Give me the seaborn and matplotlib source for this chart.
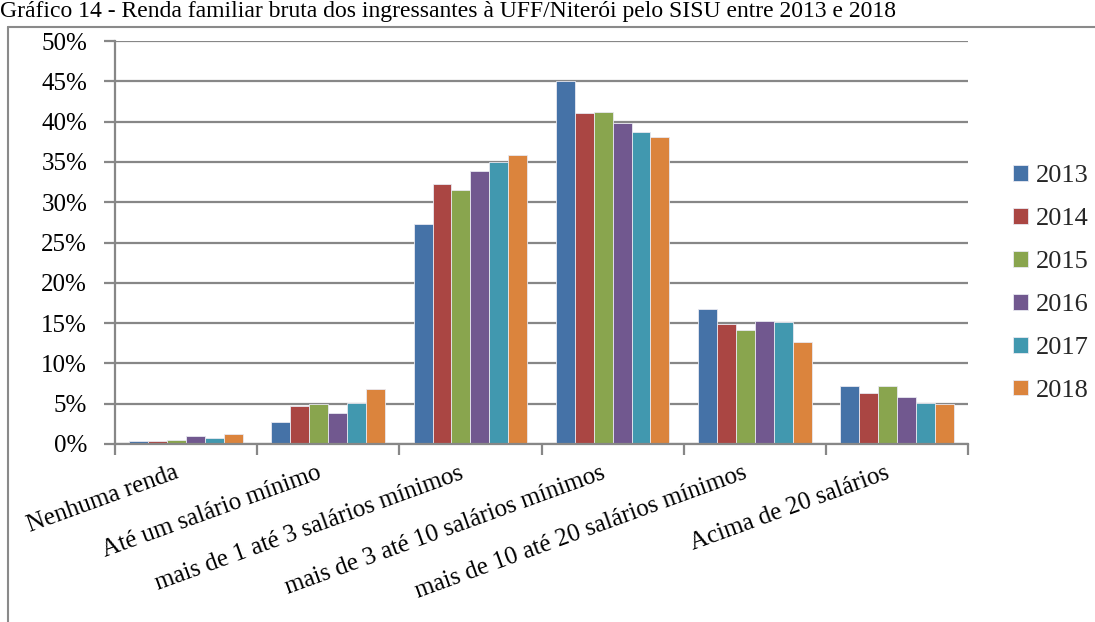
import matplotlib
matplotlib.use("Agg")
import matplotlib.pyplot as plt
import matplotlib.transforms as mtransforms
from matplotlib.lines import Line2D
from matplotlib.ticker import FuncFormatter, FixedLocator
import seaborn as sns
import pandas as pd

# Faixas de renda familiar bruta (eixo x)
categorias = [
    "Nenhuma renda",
    "Até um salário mínimo",
    "mais de 1 até 3 salários mínimos",
    "mais de 3 até 10 salários mínimos",
    "mais de 10 até 20 salários mínimos",
    "Acima de 20 salários",
]
anos = ["2013", "2014", "2015", "2016", "2017", "2018"]

# Percentual de ingressantes por faixa, um array por ano
v2013 = [0.42, 2.75, 27.3, 45.0, 16.8, 7.2]
v2014 = [0.35, 4.75, 32.3, 41.1, 14.85, 6.3]
v2015 = [0.50, 4.95, 31.5, 41.2, 14.2, 7.2]
v2016 = [0.95, 3.80, 33.9, 39.8, 15.3, 5.8]
v2017 = [0.70, 5.05, 35.0, 38.7, 15.1, 5.05]
v2018 = [1.20, 6.85, 35.8, 38.1, 12.7, 4.95]

cores = ["#4572A7", "#AA4643", "#89A54E", "#71588F", "#4198AF", "#DB843D"]
titulo = ("Gráfico 14 - Renda familiar bruta dos ingressantes à UFF/Niterói "
          "pelo SISU entre 2013 e 2018")

series = [v2013, v2014, v2015, v2016, v2017, v2018]
linhas = []
for ano, vals in zip(anos, series):
    for cat, v in zip(categorias, vals):
        linhas.append({"categoria": cat, "ano": ano, "valor": v / 100.0})
df = pd.DataFrame(linhas)

sns.set_theme(style="white")
plt.rcParams["font.family"] = ["Liberation Serif", "DejaVu Serif"]

W, H = 1095, 622
fig = plt.figure(figsize=(W / 100, H / 100), dpi=100)
ax = fig.add_axes([115 / W, 1 - 444 / H, (968 - 115) / W, (444 - 41) / H])

grid_cor = "#878787"

sns.barplot(data=df, x="categoria", y="valor", hue="ano", order=categorias,
            hue_order=anos, palette=cores, saturation=1, width=0.8, gap=0,
            edgecolor="#e8e8f0", linewidth=0.6, ax=ax, legend=True)

ax.set_ylim(0, 0.5)
ax.set_xlim(-0.5, len(categorias) - 0.5)
ax.set_yticks([i * 0.05 for i in range(11)])
ax.yaxis.set_major_formatter(FuncFormatter(lambda y, _: f"{y * 100:.0f}%"))
ax.set_axisbelow(True)
ax.yaxis.grid(True, color=grid_cor, linewidth=1.6)
ax.xaxis.grid(False)
ax.set_xlabel("")
ax.set_ylabel("")

for side in ["top", "right"]:
    ax.spines[side].set_visible(False)
for side in ["left", "bottom"]:
    ax.spines[side].set_color(grid_cor)
    ax.spines[side].set_linewidth(1.6)

ax.tick_params(axis="y", which="major", left=True, length=8, width=1.6,
               color=grid_cor, pad=12, labelsize=18, labelcolor="black")
# marcas nos limites entre categorias
ax.xaxis.set_minor_locator(FixedLocator([i - 0.5 for i in range(len(categorias) + 1)]))
ax.tick_params(axis="x", which="minor", bottom=True, length=8, width=1.6,
               color=grid_cor)
ax.tick_params(axis="x", which="major", bottom=False, length=0, pad=13,
               labelsize=18, labelcolor="black")
deslocamento = mtransforms.ScaledTranslation(-12 / 100, 0, fig.dpi_scale_trans)
for lbl in ax.get_xticklabels():
    lbl.set_rotation(20)
    lbl.set_ha("right")
    lbl.set_va("top")
    lbl.set_rotation_mode("anchor")
    lbl.set_transform(lbl.get_transform() + deslocamento)

handles, labels = ax.get_legend_handles_labels()
ax.legend(handles, labels, loc="center left",
          bbox_to_anchor=(1013 / W, 1 - 283.5 / H),
          bbox_transform=fig.transFigure, frameon=False, fontsize=19,
          handlelength=0.55, handleheight=0.55, handletextpad=0.3,
          labelspacing=0.78, borderpad=0, borderaxespad=0)

# moldura do gráfico
x0, y0 = 8 / W, 1 - 27 / H
fig.add_artist(Line2D([x0, x0], [0, y0], transform=fig.transFigure,
                      color="#8a8a8a", linewidth=1.5))
fig.add_artist(Line2D([x0, 1], [y0, y0], transform=fig.transFigure,
                      color="#8a8a8a", linewidth=1.5))

fig.text(0.0, 1 - 1 / H, titulo, ha="left", va="top", fontsize=17,
         color="black")

fig.savefig("out.png", dpi=100, facecolor="white")
